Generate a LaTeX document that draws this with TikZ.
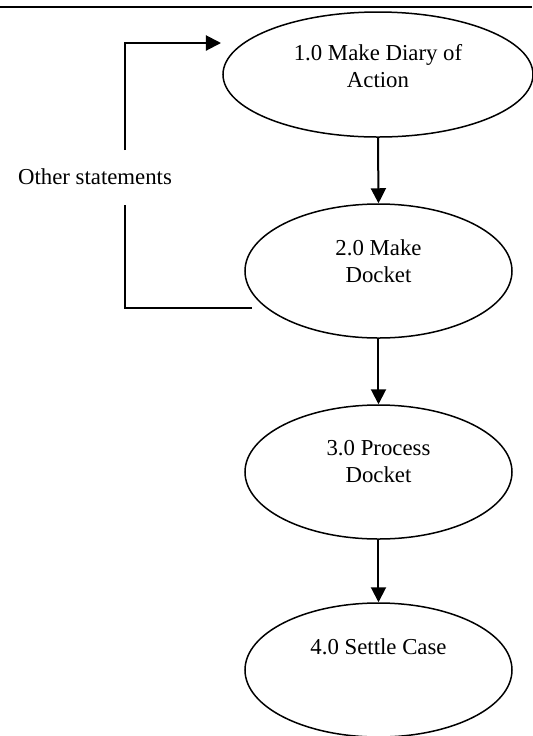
\documentclass[tikz,border=0pt]{standalone}
\usepackage{fontspec}
\setmainfont{Liberation Serif}
\usetikzlibrary{shapes.geometric,arrows.meta}

\begin{document}
\begin{tikzpicture}[x=0.5pt,y=-0.5pt,
		font=\fontsize{11.4}{13.5}\selectfont,
		proc/.style={draw, ellipse, line width=0.75pt, minimum width=133.5pt, minimum height=67pt, inner sep=0pt},
		flow/.style={line width=1pt, -{Triangle[length=7.5pt,width=7.5pt]}},
		every label/.style={align=center, inner sep=0pt}]
	\useasboundingbox (0,0) rectangle (532,736);
	% rule across the top
	\draw[line width=1pt] (0,7) -- (532,7);
	% processes
	\node[proc, minimum width=155pt, minimum height=62.5pt,
		label={[yshift=4pt]center:1.0 Make Diary of\\Action}] (diary) at (378,74.5) {};
	\node[proc, label={[yshift=5pt]center:2.0 Make\\Docket}] (docket) at (378.5,271) {};
	\node[proc, label={[yshift=5pt]center:3.0 Process\\Docket}] (process) at (378.5,472) {};
	\node[proc, label={[yshift=11.5pt]center:4.0 Settle Case}] (settle) at (378.5,670) {};
	% main flow
	\draw[flow] (diary.south) -- (docket.north);
	\draw[flow] (docket.south) -- (process.north);
	\draw[flow] (process.south) -- (settle.north);
	% loop back for other statements
	\node (other) at (95,177) {Other statements};
	\coordinate (loopin) at (252,308);
	\coordinate (loopout) at (221,43);
	\coordinate (gapbot) at (125,205);
	\coordinate (gaptop) at (125,150);
	\draw[line width=1pt] (loopin) -- (loopin -| gapbot) -- (gapbot);
	\draw[flow] (gaptop) -- (gaptop |- loopout) -- (loopout);
\end{tikzpicture}
\end{document}
